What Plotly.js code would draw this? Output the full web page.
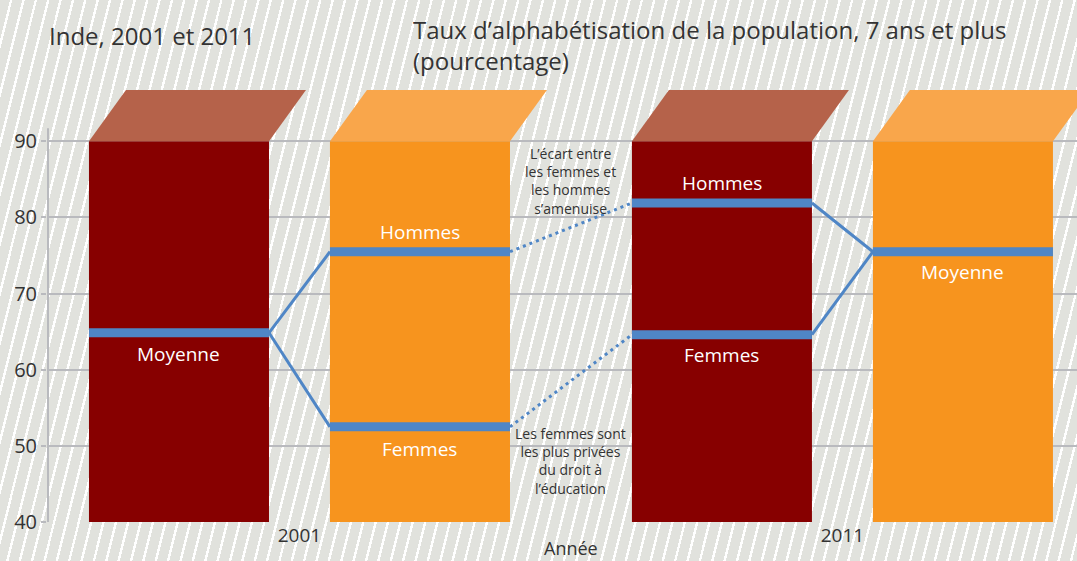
<!DOCTYPE html>
<html>
<head>
<meta charset="utf-8">
<script src="https://cdn.plot.ly/plotly-3.0.1.min.js"></script>
<style>
  html, body { margin: 0; padding: 0; }
  body {
    width: 1077px; height: 561px; overflow: hidden;
    background: repeating-linear-gradient(104deg, #e1e2dd 0px, #e1e2dd 9.6px, #ffffff 9.6px, #ffffff 12px);
  }
  #chart { width: 1077px; height: 561px; }
</style>
</head>
<body>
<div id="chart"></div>
<script>
// ---- data ----
const years = ['2001', '2011'];
const barTop = [90, 90];              // bars drawn from axis floor to 90
const moyenne = [64.85, 75.5];        // average literacy rate (%)
const hommes  = [75.5, 81.9];         // men
const femmes  = [52.5, 64.6];         // women
const yTicks = [40, 50, 60, 70, 80, 90];
const noteTop = 'L’écart entre<br>les femmes et<br>les hommes<br>s’amenuise';
const noteBottom = 'Les femmes sont<br>les plus privées<br>du droit à<br>l’éducation';

// ---- style ----
const FONT = '"Open Sans", Lato, sans-serif';
const TXT = '#333333';
const RED = '#870000', RED_TOP = '#b5624a';
const ORA = '#f7941e', ORA_TOP = '#f9a64b';
const BLUE = '#4f86c6';
const GRID = '#b9babe';
const BARGAP = 0.1123, GROUPGAP = 0.253;
const XR = [-0.465, 1.432];
const YR = [40, 96.74];

// bar geometry on the category axis, derived from the gap settings
const slot = (1 - BARGAP) / 2;
const halfW = slot * (1 - GROUPGAP) / 2;
const center = (i, k) => i - slot / 2 + k * slot;   // k = 0 (first trace), 1 (second)
const L = (i, k) => center(i, k) - halfW;
const R = (i, k) => center(i, k) + halfW;

const traces = [
  { type: 'bar', x: years, y: barTop, marker: { color: RED }, hoverinfo: 'skip', showlegend: false },
  { type: 'bar', x: years, y: barTop, marker: { color: ORA }, hoverinfo: 'skip', showlegend: false }
];

function seg(x0, x1, y0, y1, w, dash) {
  traces.push({
    type: 'scatter', mode: 'lines', xaxis: 'x2', yaxis: 'y',
    x: [x0, x1], y: [y0, y1],
    line: { color: BLUE, width: w, dash: dash || 'solid' },
    hoverinfo: 'skip', showlegend: false
  });
}
// connectors
seg(R(0,0), L(0,1), moyenne[0], hommes[0], 3);
seg(R(0,0), L(0,1), moyenne[0], femmes[0], 3);
seg(R(0,1), L(1,0), hommes[0], hommes[1], 3, '3px,4px');
seg(R(0,1), L(1,0), femmes[0], femmes[1], 3, '3px,4px');
seg(R(1,0), L(1,1), hommes[1], moyenne[1], 3);
seg(R(1,0), L(1,1), femmes[1], moyenne[1], 3);
// level bands on the bars
seg(L(0,0), R(0,0), moyenne[0], moyenne[0], 9);
seg(L(0,1), R(0,1), hommes[0], hommes[0], 9);
seg(L(0,1), R(0,1), femmes[0], femmes[0], 9);
seg(L(1,0), R(1,0), hommes[1], hommes[1], 9);
seg(L(1,0), R(1,0), femmes[1], femmes[1], 9);
seg(L(1,1), R(1,1), moyenne[1], moyenne[1], 9);

// 3D tops
const skew = 0.0681;
const shapes = [];
[[0,0,RED_TOP],[0,1,ORA_TOP],[1,0,RED_TOP],[1,1,ORA_TOP]].forEach(([i,k,c]) => {
  const yb = barTop[i], yt = YR[1];
  shapes.push({
    type: 'path', xref: 'x2', yref: 'y', line: { width: 0 }, fillcolor: c,
    path: `M ${L(i,k)},${yb} L ${R(i,k)},${yb} L ${R(i,k)+skew},${yt} L ${L(i,k)+skew},${yt} Z`
  });
});
// left axis line (stops a little above 90)
shapes.push({ type: 'line', xref: 'x2', yref: 'y', x0: XR[0] + 1/543, x1: XR[0] + 1/543,
  y0: 40, y1: 91.7, line: { color: GRID, width: 2 } });

function lab(x, y, text, shift) {
  return { xref: 'x2', yref: 'y', x: x, y: y, yshift: shift, text: text, showarrow: false,
    font: { family: FONT, size: 19, color: '#ffffff' } };
}
const annotations = [
  lab(center(0,0), moyenne[0], 'Moyenne', -21),
  lab(center(0,1), hommes[0], 'Hommes', 20),
  lab(center(0,1), femmes[0], 'Femmes', -22),
  lab(center(1,0), hommes[1], 'Hommes', 20),
  lab(center(1,0), femmes[1], 'Femmes', -20),
  lab(center(1,1), moyenne[1], 'Moyenne', -20),
  { xref: 'x2', yref: 'y', x: (R(0,1) + L(1,0)) / 2, y: hommes[1], yshift: 22, text: noteTop,
    showarrow: false, align: 'center', font: { family: FONT, size: 14, color: TXT } },
  { xref: 'x2', yref: 'y', x: (R(0,1) + L(1,0)) / 2, y: femmes[0], yshift: -34, text: noteBottom,
    showarrow: false, align: 'center', font: { family: FONT, size: 14, color: TXT } },
  { xref: 'paper', yref: 'paper', x: 0, xanchor: 'left', y: 1, yshift: 55, yanchor: 'middle',
    text: 'Inde, 2001 et 2011', showarrow: false, font: { family: FONT, size: 24, color: TXT } },
  { xref: 'x2', yref: 'paper', x: (R(0,1) + L(1,0)) / 2, y: 0, yshift: -26, yanchor: 'middle',
    text: 'Année', showarrow: false, font: { family: FONT, size: 18, color: TXT } }
];

const layout = {
  width: 1077, height: 561,
  margin: { l: 47, r: 0, t: 90, b: 39, pad: 0 },
  paper_bgcolor: 'rgba(0,0,0,0)', plot_bgcolor: 'rgba(0,0,0,0)',
  font: { family: FONT, color: TXT },
  barmode: 'group', bargap: BARGAP, bargroupgap: GROUPGAP,
  title: {
    text: 'Taux d’alphabétisation de la population, 7 ans et plus<br>(pourcentage)',
    xref: 'container', yref: 'container', x: 413/1077, xanchor: 'left',
    y: 1 - 39/561, yanchor: 'top',
    font: { family: FONT, size: 24, color: TXT }
  },
  xaxis: { type: 'category', range: XR, showgrid: false, zeroline: false, showline: false,
    ticks: '', tickfont: { family: FONT, size: 19, color: TXT }, fixedrange: true },
  xaxis2: { overlaying: 'x', anchor: 'y', range: XR, visible: false, fixedrange: true },
  yaxis: { range: YR, tickvals: yTicks, ticktext: yTicks.map(String), showgrid: true,
    gridcolor: GRID, gridwidth: 2, zeroline: false, showline: false,
    ticks: 'outside', ticklen: 5, tickwidth: 2, tickcolor: GRID,
    tickfont: { family: FONT, size: 20, color: TXT }, fixedrange: true },
  shapes: shapes,
  annotations: annotations,
  showlegend: false
};

Plotly.newPlot('chart', traces, layout, { staticPlot: true, displayModeBar: false });
</script>
</body>
</html>
